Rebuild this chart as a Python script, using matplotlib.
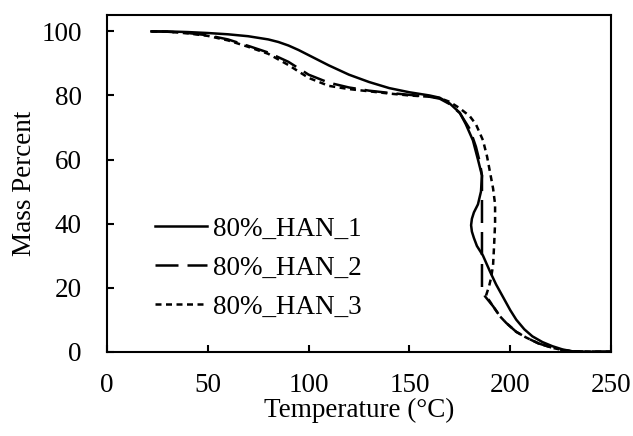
import numpy as np
import matplotlib
matplotlib.use("Agg")
import matplotlib.pyplot as plt

plt.rcParams['font.family'] = ['Liberation Serif', 'DejaVu Serif']

# TGA curves
temp_1 = [22, 30, 40, 50, 60, 70, 80, 85, 90, 95, 100, 110, 120, 130, 140, 150, 160, 165,
          170, 175, 178, 181.5, 184, 186, 185.5, 184, 182, 181, 180.6, 181, 182,
          183.5, 186.5, 190, 193, 196.5, 200, 203, 207, 211, 216, 221, 226, 231, 240, 250]
mass_1 = [100, 100, 99.8, 99.5, 99.1, 98.5, 97.5, 96.7, 95.6, 94.2, 92.6, 89.4, 86.5, 84.2, 82.3, 81, 80, 79.3,
          77.5, 74.6, 71, 66, 60, 55, 50, 46, 43.5, 41.5, 39.5, 37.5, 35.5,
          33, 30, 25, 21, 17, 13, 10, 7, 4.8, 3, 1.7, 0.7, 0.1, 0, 0]

temp_2 = [22, 30, 40, 50, 60, 70, 80, 90, 100, 110, 120, 130, 140, 150, 160, 165,
          170, 175, 180, 183, 185, 186, 186, 187.5, 191.5, 195, 198, 203, 208, 214,
          221, 226, 231, 240, 250]
mass_2 = [100, 99.9, 99.5, 98.8, 97.5, 95.5, 93.4, 90.5, 86.5, 84, 82.5, 81.5, 80.8, 80.2,
          79.6, 79, 77.3, 74.5, 69.5, 64, 59, 55, 19.5, 17.3, 14.2, 11, 9, 6.2, 4.4, 2.6,
          1.2, 0.5, 0.1, 0, 0]

temp_3 = [22, 30, 40, 50, 60, 70, 80, 90, 100, 110, 120, 130, 140, 150, 160, 165,
          170, 175, 180, 183, 186.5, 188.5, 190, 191.5, 192.5, 192.5, 192, 191.5, 190.5,
          189.5, 188, 191.5, 195, 198, 203, 208, 214, 221, 226, 231, 240, 250]
mass_3 = [100, 99.9, 99.4, 98.6, 97.2, 95.2, 93, 89.5, 85.5, 83, 82, 81.3, 80.6, 80,
          79.6, 79.2, 78, 76, 73.5, 71, 66, 61, 56, 51, 46, 40, 33, 27, 23,
          20.4, 17.5, 14.2, 11, 9, 6.2, 4.4, 2.6, 1.2, 0.5, 0.1, 0, 0]

labels = ['80%_HAN_1', '80%_HAN_2', '80%_HAN_3']

fig = plt.figure(figsize=(6.33, 4.36), dpi=100)
ax = fig.add_axes([107/633, 1 - 351.7/436, 504/633, 336.3/436])

ax.plot(temp_1, mass_1, color='black', lw=1.8, label=labels[0])
ax.plot(temp_2, mass_2, color='black', lw=1.8, dashes=(9.2, 3.6), label=labels[1])
ax.plot(temp_3, mass_3, color='black', lw=1.8, dashes=(2.4, 1.8), label=labels[2])

ax.set_xlim(0, 250)
ax.set_ylim(0, 105)
ax.set_xticks(np.arange(0, 251, 50))
ax.set_yticks(np.arange(0, 101, 20))

for s in ['top', 'right', 'left', 'bottom']:
    ax.spines[s].set_linewidth(1.5)

ax.tick_params(axis='both', direction='in', length=5, width=1.5, labelsize=19.5)
ax.tick_params(axis='y', pad=18)
ax.tick_params(axis='x', pad=15)

ax.set_xlabel('Temperature (°C)', fontsize=19.5, labelpad=0)
ax.set_ylabel('Mass Percent', fontsize=19.5, labelpad=3)

ax.legend(loc='center left', bbox_to_anchor=(0.074, 0.249), borderaxespad=0,
          frameon=False, fontsize=19.5, handlelength=1.92, handletextpad=0.22,
          labelspacing=0.52)

fig.savefig('out.png', dpi=100)
